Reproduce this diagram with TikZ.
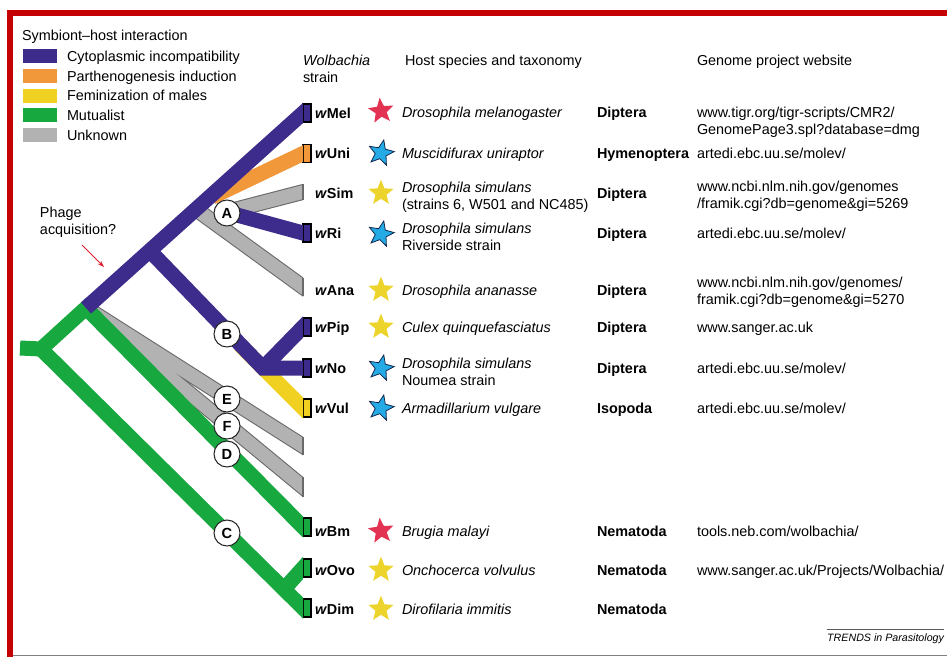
\documentclass[tikz,border=0pt]{standalone}
\usepackage{fontspec}
\setmainfont{Liberation Sans}
\usetikzlibrary{shapes.geometric,arrows.meta}
\definecolor{cpurple}{RGB}{62,44,140}
\definecolor{corange}{RGB}{240,152,58}
\definecolor{cyellow}{RGB}{240,208,32}
\definecolor{cgreen}{RGB}{24,168,64}
\definecolor{cgray}{RGB}{178,178,178}
\definecolor{cgrayedge}{RGB}{105,105,105}
\definecolor{cred}{RGB}{196,0,0}
\definecolor{sred}{RGB}{226,52,82}
\definecolor{sblue}{RGB}{36,170,228}
\definecolor{syellow}{RGB}{236,212,44}
\definecolor{snavy}{RGB}{20,40,80}
\definecolor{arrred}{RGB}{220,30,50}
\begin{document}
\begin{tikzpicture}[x=0.75pt,y=-0.75pt,
  every node/.style={inner sep=0pt, outer sep=0pt},
  txt/.style={anchor=base west, font=\fontsize{10.8}{12.75}\selectfont, align=left},
  band/.style={line width=11.25pt, line join=miter, shorten >=-15pt},
  grayout/.style={line width=11.8pt, draw=cgrayedge, shorten >=-15pt},
  grayin/.style={line width=10.2pt, draw=cgray, shorten >=-15pt},
  tipbox/.style={draw=black, line width=1.2pt, minimum width=6pt, minimum height=13.5pt},
  lbl/.style={circle, draw=black!85, fill=white, line width=0.8pt, minimum size=19.5pt, font=\bfseries\fontsize{11}{11}\selectfont},
  starshape/.style={star, star points=5, star point ratio=2.3, minimum size=20pt},
  bluestar/.style={starshape, fill=sblue, draw=snavy, line width=0.6pt, shape border rotate=-12},
  swatch/.style={minimum width=25.5pt, minimum height=10.5pt},
  tipedge/.style={draw=cgrayedge, line width=1.4pt},
]
\useasboundingbox (0,0) rectangle (947,657);
% frame
\fill[cred] (7,10) rectangle (947,16);
\fill[cred] (7,10) rectangle (13,657);
\draw[gray, line width=1.2pt] (13,655.5) -- (947,655.5);

% legend
\node[txt] (legT) at (22,40) {Symbiont–host interaction};
\node[swatch, fill=cpurple] (sw1) at (40,56) {};
\node[swatch, fill=corange] (sw2) at (40,76) {};
\node[swatch, fill=cyellow] (sw3) at (40,95.5) {};
\node[swatch, fill=cgreen] (sw4) at (40,115) {};
\node[swatch, fill=cgray] (sw5) at (40,135) {};
\node[txt] (lt1) at (67,61) {Cytoplasmic incompatibility};
\node[txt] (lt2) at (67,81) {Parthenogenesis induction};
\node[txt] (lt3) at (67,100.5) {Feminization of males};
\node[txt] (lt4) at (67,120) {Mutualist};
\node[txt] (lt5) at (67,140) {Unknown};

% headers
\node[txt] (hW) at (303,82) {\textit{Wolbachia}\\strain};
\node[txt] (hS) at (405,65) {Host species and taxonomy};
\node[txt] (hG) at (697,65) {Genome project website};

% tip boxes
\node[tipbox, fill=cpurple] (bMel) at (307,113) {};
\node[tipbox, fill=corange] (bUni) at (307,153.5) {};
\node[tipbox, fill=cpurple] (bRi) at (307,233) {};
\node[tipbox, fill=cpurple] (bPip) at (307,327) {};
\node[tipbox, fill=cpurple] (bNo) at (307,368) {};
\node[tipbox, fill=cyellow] (bVul) at (307,408) {};
\node[tipbox, fill=cgreen] (bBm) at (307,527) {};
\node[tipbox, fill=cgreen] (bOvo) at (307,568) {};
\node[tipbox, fill=cgreen] (bDim) at (307,608) {};

% coordinates of the tree
\coordinate (r0) at (20,348);
\coordinate (r) at (41,349);
\coordinate (j1) at (86,308);
\coordinate (jB) at (150,251);
\coordinate (jB2) at (263,368);
\coordinate (jBy) at (240,345);
\coordinate (jO) at (212,197);
\coordinate (jAna) at (197,210);
\coordinate (jC) at (285,588);
\coordinate (pA) at (226,212);
\coordinate (tSim) at (303,192);
\coordinate (tAna) at (303,287);
\coordinate (tE) at (303,446);
\coordinate (tF) at (303,487);

\begin{scope}
\clip (0,0) rectangle (303,657);
% unknown (gray) branches
\draw[grayout] (j1) -- (tE);
\draw[grayout] (j1) -- (tF);
\draw[grayout] (jAna) -- (tAna);
\draw[grayout] (pA) -- (tSim);
\draw[grayin] (j1) -- (tE);
\draw[grayin] (j1) -- (tF);
\draw[grayin] (jAna) -- (tAna);
\draw[grayin] (pA) -- (tSim);
% parthenogenesis
\draw[band, corange] (jO) -- (bUni.west);
% feminization
\draw[band, cyellow] (jBy) -- (bVul.west);
% CI branches
\draw[band, cpurple] (pA) -- (bRi.west);
\draw[band, cpurple] (jB) -- (jB2) -- (bNo.west);
\draw[band, cpurple] (jB2) -- (bPip.west);
% mutualists
\draw[band, cgreen] (r0) -- (r) -- (j1) -- (bBm.west);
\draw[band, cgreen] (r) -- (bDim.west);
\draw[band, cgreen] (jC) -- (bOvo.west);
% trunk
\draw[band, cpurple] (j1) -- (bMel.west);
\end{scope}
% gray tip edges
\draw[tipedge] (tSim) ++(0,-7.7) -- ++(0,15.4);
\draw[tipedge] (tAna) ++(0,-9.2) -- ++(0,18.4);
\draw[tipedge] (tE) ++(0,-8.9) -- ++(0,17.8);
\draw[tipedge] (tF) ++(0,-9.7) -- ++(0,19.4);

% clade circles
\node[lbl] (A) at (227,213) {A};
\node[lbl] (B) at (227,334) {B};
\node[lbl] (E) at (227,399) {E};
\node[lbl] (F) at (227,426) {F};
\node[lbl] (D) at (227,454) {D};
\node[lbl] (C) at (227,533) {C};

% phage
\node[txt] (phage) at (40,234) {Phage\\acquisition?};
\coordinate (aS) at (82,245);
\coordinate (aE) at (104,267);
\draw[arrred, line width=0.7pt, -{Stealth[length=5pt,width=3.5pt]}] (aS) -- (aE);

% strain labels
\node[txt] (sMel) at (315,118) {\textbf{\textit{w}Mel}};
\node[txt] (sUni) at (315,158) {\textbf{\textit{w}Uni}};
\node[txt] (sSim) at (315,198) {\textbf{\textit{w}Sim}};
\node[txt] (sRi) at (315,238) {\textbf{\textit{w}Ri}};
\node[txt] (sAna) at (315,295) {\textbf{\textit{w}Ana}};
\node[txt] (sPip) at (315,332) {\textbf{\textit{w}Pip}};
\node[txt] (sNo) at (315,373) {\textbf{\textit{w}No}};
\node[txt] (sVul) at (315,413) {\textbf{\textit{w}Vul}};
\node[txt] (sBm) at (315,536) {\textbf{\textit{w}Bm}};
\node[txt] (sOvo) at (315,575) {\textbf{\textit{w}Ovo}};
\node[txt] (sDim) at (315,614) {\textbf{\textit{w}Dim}};

% stars
\node[starshape, fill=sred, shape border rotate=6] (stMel) at (381,111) {};
\node[bluestar] (stUni) at (381,153) {};
\node[starshape, fill=syellow] (stSim) at (381,193) {};
\node[bluestar] (stRi) at (381,234) {};
\node[starshape, fill=syellow] (stAna) at (381,290) {};
\node[starshape, fill=syellow] (stPip) at (381,327) {};
\node[bluestar] (stNo) at (381,368) {};
\node[bluestar] (stVul) at (381,408) {};
\node[starshape, fill=sred, shape border rotate=6] (stBm) at (381,531) {};
\node[starshape, fill=syellow] (stOvo) at (381,570) {};
\node[starshape, fill=syellow] (stDim) at (381,609) {};

% species
\node[txt] (spMel) at (402,117) {\textit{Drosophila melanogaster}};
\node[txt] (spUni) at (402,158) {\textit{Muscidifurax uniraptor}};
\node[txt] (spSim) at (402,209) {\textit{Drosophila simulans}\\(strains 6, W501 and NC485)};
\node[txt] (spRi) at (402,250) {\textit{Drosophila simulans}\\Riverside strain};
\node[txt] (spAna) at (402,295) {\textit{Drosophila ananasse}};
\node[txt] (spPip) at (402,332) {\textit{Culex quinquefasciatus}};
\node[txt] (spNo) at (402,385) {\textit{Drosophila simulans}\\Noumea strain};
\node[txt] (spVul) at (402,413) {\textit{Armadillarium vulgare}};
\node[txt] (spBm) at (402,536) {\textit{Brugia malayi}};
\node[txt] (spOvo) at (402,575) {\textit{Onchocerca volvulus}};
\node[txt] (spDim) at (402,614) {\textit{Dirofilaria immitis}};

% orders
\node[txt] (oMel) at (597,117) {\textbf{Diptera}};
\node[txt] (oUni) at (597,158) {\textbf{Hymenoptera}};
\node[txt] (oSim) at (597,198) {\textbf{Diptera}};
\node[txt] (oRi) at (597,238) {\textbf{Diptera}};
\node[txt] (oAna) at (597,295) {\textbf{Diptera}};
\node[txt] (oPip) at (597,332) {\textbf{Diptera}};
\node[txt] (oNo) at (597,373) {\textbf{Diptera}};
\node[txt] (oVul) at (597,413) {\textbf{Isopoda}};
\node[txt] (oBm) at (597,536) {\textbf{Nematoda}};
\node[txt] (oOvo) at (597,575) {\textbf{Nematoda}};
\node[txt] (oDim) at (597,614) {\textbf{Nematoda}};

% websites
\node[txt] (wsMel) at (697,134) {www.tigr.org/tigr-scripts/CMR2/\\GenomePage3.spl?database=dmg};
\node[txt] (wsUni) at (697,158) {artedi.ebc.uu.se/molev/};
\node[txt] (wsSim) at (697,208) {www.ncbi.nlm.nih.gov/genomes\\/framik.cgi?db=genome\&gi=5269};
\node[txt] (wsRi) at (697,238) {artedi.ebc.uu.se/molev/};
\node[txt] (wsAna) at (697,304) {www.ncbi.nlm.nih.gov/genomes/\\framik.cgi?db=genome\&gi=5270};
\node[txt] (wsPip) at (697,332) {www.sanger.ac.uk};
\node[txt] (wsNo) at (697,373) {artedi.ebc.uu.se/molev/};
\node[txt] (wsVul) at (697,413) {artedi.ebc.uu.se/molev/};
\node[txt] (wsBm) at (697,536) {tools.neb.com/wolbachia/};
\node[txt] (wsOvo) at (697,575) {www.sanger.ac.uk/Projects/Wolbachia/};

% journal tag
\node[anchor=base east, font=\itshape\fontsize{8}{9}\selectfont] (trends) at (944,641) {TRENDS in Parasitology};
\draw[gray!70!black, line width=0.6pt] ([yshift=3pt]trends.north west) -- ([yshift=3pt]trends.north east);
\end{tikzpicture}
\end{document}
